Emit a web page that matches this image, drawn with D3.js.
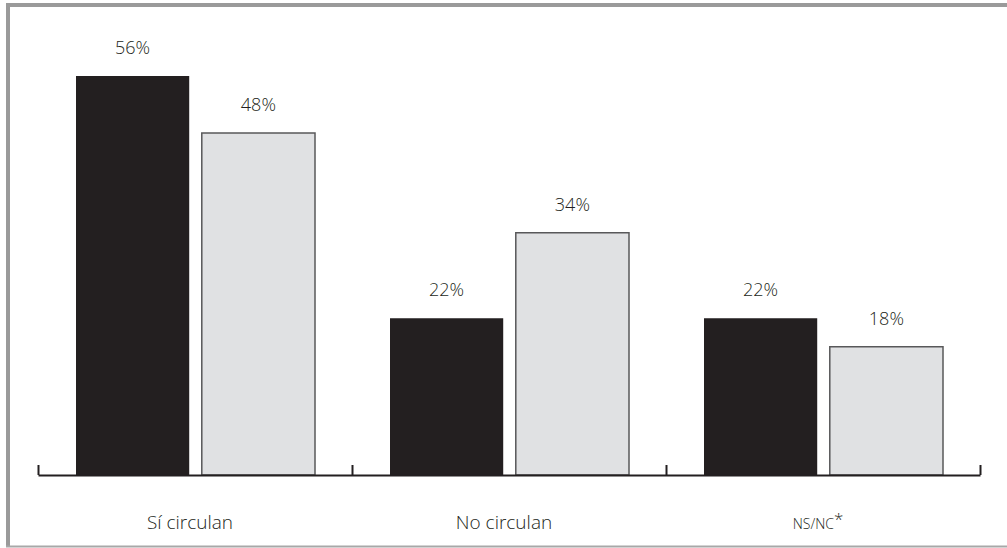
<!DOCTYPE html>
<html>
<head>
<meta charset="utf-8">
<script src="https://cdn.jsdelivr.net/npm/d3@7"></script>
<style>
  html, body { margin: 0; padding: 0; background: #fff; }
  svg { display: block; }
  text { font-family: "Open Sans", "Noto Sans", sans-serif; fill: #231f20; }
</style>
</head>
<body>
<script>
const categories = ["Sí circulan", "No circulan", "NS/NC"];
const seriesNames = ["A", "B"];
const seriesA = [56, 22, 22];
const seriesB = [48, 34, 18];
const valueLabels = [["56%", "48%"], ["22%", "34%"], ["22%", "18%"]];

const W = 1007, H = 548;
const svg = d3.select("body").append("svg").attr("width", W).attr("height", H);

// frame
svg.append("rect").attr("x", 6).attr("y", 3).attr("width", W - 6).attr("height", 4).attr("fill", "#9a9a9a");
svg.append("rect").attr("x", 6).attr("y", 3).attr("width", 4).attr("height", 544).attr("fill", "#9a9a9a");
svg.append("rect").attr("x", 6).attr("y", 545.5).attr("width", W - 6).attr("height", 2).attr("fill", "#a8a8a8");

const x0 = d3.scaleBand().domain(categories).range([38, 980]).paddingInner(0).paddingOuter(0);
const x1 = d3.scaleBand().domain(seriesNames).range([38, 277]).paddingInner(0.1).paddingOuter(0);
const y = d3.scaleLinear().domain([0, 56]).range([475, 76]);

const data = categories.map((c, i) => ({
  cat: c,
  vals: [
    { s: "A", v: seriesA[i], label: valueLabels[i][0] },
    { s: "B", v: seriesB[i], label: valueLabels[i][1] }
  ]
}));

const g = svg.selectAll("g.grp").data(data).enter().append("g")
  .attr("class", "grp")
  .attr("transform", d => `translate(${x0(d.cat)},0)`);

g.selectAll("rect").data(d => d.vals).enter().append("rect")
  .attr("x", d => x1(d.s))
  .attr("y", d => y(d.v))
  .attr("width", x1.bandwidth())
  .attr("height", d => y(0) - y(d.v))
  .attr("fill", d => d.s === "A" ? "#231f20" : "#e0e1e3")
  .attr("stroke", d => d.s === "A" ? "none" : "#58585a")
  .attr("stroke-width", 1.5);

g.selectAll("text.val").data(d => d.vals).enter().append("text")
  .attr("class", "val")
  .attr("x", d => x1(d.s) + x1.bandwidth() / 2)
  .attr("y", d => y(d.v) - 22)
  .attr("text-anchor", "middle")
  .attr("font-size", 18)
  .attr("font-weight", 300)
  .text(d => d.label);

// axis with ticks at band boundaries
const tickScale = d3.scaleLinear().domain([0, categories.length]).range(x0.range());
const axis = svg.append("g").attr("transform", "translate(0,475)")
  .call(d3.axisBottom(tickScale).tickValues(d3.range(categories.length + 1)).tickSize(-10).tickSizeOuter(0).tickFormat(""));
axis.select(".domain").attr("stroke", "#231f20").attr("stroke-width", 2);
axis.selectAll(".tick line").attr("stroke", "#231f20").attr("stroke-width", 2);

// category labels
const catAxis = svg.append("g").attr("transform", "translate(0,475)")
  .call(d3.axisBottom(x0).tickSize(0).tickPadding(0));
catAxis.select(".domain").remove();
catAxis.selectAll(".tick text").remove();
catAxis.selectAll(".tick").each(function(d) {
  const t = d3.select(this).append("text")
    .attr("x", -5)
    .attr("y", 54)
    .attr("text-anchor", "middle")
    .attr("font-size", d === "NS/NC" ? 14 : 19)
    .attr("font-weight", 300)
    .attr("fill", "#231f20");
  if (d === "NS/NC") {
    t.append("tspan").text("NS/NC");
    t.append("tspan").attr("dy", -4).attr("font-size", 17).text("*");
  } else {
    t.text(d);
  }
});
</script>
</body>
</html>
